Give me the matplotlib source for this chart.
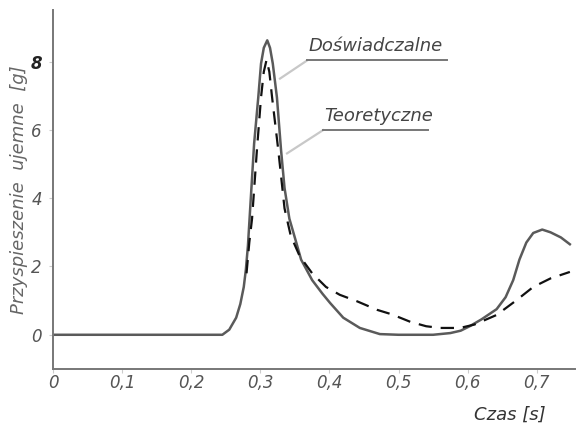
import matplotlib
matplotlib.use("Agg")
import matplotlib.pyplot as plt

# experimental curve (solid), time [s] vs deceleration [g]
t_exp = [0.0, 0.245, 0.255, 0.265, 0.271, 0.276, 0.279, 0.282, 0.285, 0.288,
         0.291, 0.297, 0.301, 0.305, 0.310, 0.314, 0.318, 0.324, 0.330, 0.335,
         0.342, 0.352, 0.359, 0.375, 0.390, 0.401, 0.420, 0.444, 0.473,
         0.50, 0.55, 0.575, 0.59, 0.603, 0.62, 0.642, 0.655, 0.666, 0.675,
         0.685, 0.695, 0.708, 0.72, 0.735, 0.748]
a_exp = [0.0, 0.0, 0.15, 0.5, 0.9, 1.4, 1.9, 2.6, 3.6, 4.6,
         5.6, 6.95, 7.94, 8.4, 8.62, 8.4, 7.94, 6.95, 5.4, 4.3,
         3.4, 2.7, 2.2, 1.6, 1.2, 0.93, 0.5, 0.2, 0.02,
         0.0, 0.0, 0.05, 0.12, 0.25, 0.45, 0.75, 1.1, 1.6, 2.2,
         2.7, 2.98, 3.08, 3.0, 2.85, 2.65]

# theoretical curve (dashed)
t_teo = [0.280, 0.284, 0.288, 0.295, 0.301, 0.305, 0.309, 0.313, 0.317, 0.326,
         0.335, 0.344, 0.357, 0.375, 0.395, 0.415, 0.440, 0.469, 0.490,
         0.517, 0.540, 0.560, 0.589, 0.610, 0.642, 0.670, 0.695, 0.720, 0.748]
a_teo = [1.8, 2.7, 3.4, 5.4, 6.95, 7.7, 8.05, 7.7, 6.95, 5.4,
         3.7, 2.9, 2.3, 1.8, 1.4, 1.17, 0.98, 0.73, 0.6,
         0.38, 0.25, 0.2, 0.2, 0.3, 0.58, 1.0, 1.4, 1.65, 1.84]

x_ticks = [0, 0.1, 0.2, 0.3, 0.4, 0.5, 0.6, 0.7]
x_labels = ["0", "0,1", "0,2", "0,3", "0,4", "0,5", "0,6", "0,7"]
y_ticks = [0, 2, 4, 6, 8]
y_labels = ["0", "2", "4", "6", "8"]

ink = "#555555"
fig = plt.figure(figsize=(5.77, 4.28), dpi=100)
ax = fig.add_axes([0.092, 0.138, 0.904, 0.838])

ax.plot(t_exp, a_exp, color="#5a5a5a", lw=1.8, solid_joinstyle="round")
ax.plot(t_teo, a_teo, color="#111111", lw=1.6, dashes=(6, 4))

ax.set_xlim(0, 0.755)
ax.set_ylim(-1, 9.5)
for s in ["top", "right"]:
    ax.spines[s].set_visible(False)
for s in ["left", "bottom"]:
    ax.spines[s].set_color("#777777")
    ax.spines[s].set_linewidth(1.4)

ax.set_xticks(x_ticks)
ax.set_xticklabels(x_labels, style="italic", fontsize=12, color=ink)
ax.set_yticks(y_ticks)
ax.set_yticklabels(y_labels, style="italic", fontsize=12, color=ink)
ax.get_yticklabels()[-1].set_fontweight("bold")
ax.get_yticklabels()[-1].set_color("#222222")
ax.tick_params(axis="x", length=3, color="#cccccc", pad=1)
ax.tick_params(axis="y", length=3, color="#cccccc", pad=5)

ax.set_ylabel("Przyspieszenie  ujemne  [g]", style="italic", fontsize=13,
              color="#666666", labelpad=2)
fig.text(0.945, 0.02, "Czas [s]", style="italic", fontsize=13, color="#333333",
         ha="right")

# labels with leader lines
def label(text, x0, y0, x1, y1, x2):
    ax.plot([x0, x1], [y0, y1], color="#c8c8c8", lw=1.6)
    ax.plot([x1, x2], [y1, y1], color="#777777", lw=1.4)
    ax.text(x1 + 0.002, y1 + 0.15, text, style="italic", fontsize=13,
            color="#444444", ha="left", va="bottom")

label("Doświadczalne", 0.3285, 7.5, 0.3676, 8.03, 0.570)
label("Teoretyczne", 0.3386, 5.31, 0.3907, 5.99, 0.5427)

fig.savefig("out.png", dpi=100)
